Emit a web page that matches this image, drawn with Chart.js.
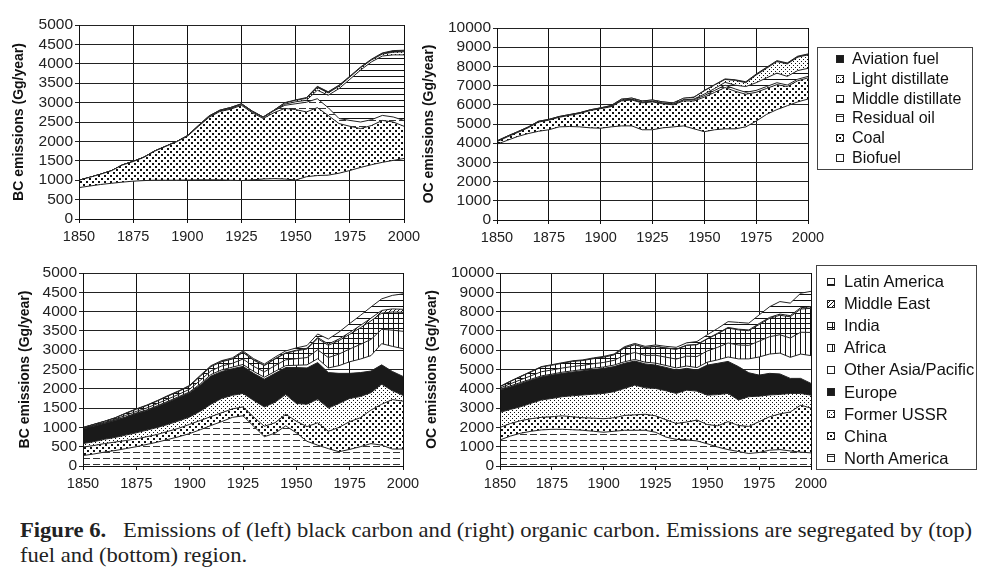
<!DOCTYPE html>
<html>
<head>
<meta charset="utf-8">
<script src="https://cdn.jsdelivr.net/npm/chart.js@4.4.1/dist/chart.umd.min.js"></script>
<style>
  body { margin: 0; background: #fff; width: 988px; height: 585px; overflow: hidden; position: relative; font-family: "Liberation Sans", Arial, sans-serif; }
  canvas.chart { position: absolute; }
  .legend { position: absolute; border: 1px solid #444; background: #fff; box-sizing: border-box; }
  .legend .item { position: absolute; display: flex; align-items: center; height: 18px; color: #111; white-space: nowrap; }
  #legendFuel .item { font-size: 16px; }
  #legendRegion .item { font-size: 16.5px; }
  #caption { position: absolute; left: 20px; top: 518px; font-family: "Liberation Serif", "Times New Roman", serif; font-size: 21px; line-height: 25px; color: #222; transform-origin: 0 0; white-space: nowrap; }
</style>
</head>
<body>
<canvas id="bcFuel" class="chart"></canvas>
<canvas id="ocFuel" class="chart"></canvas>
<canvas id="bcRegion" class="chart"></canvas>
<canvas id="ocRegion" class="chart"></canvas>
<div id="legendFuel" class="legend" style="left:817px;top:47px;width:156px;height:123px"></div>
<div id="legendRegion" class="legend" style="left:816px;top:265px;width:161px;height:205px"></div>
<div id="caption">
  <div id="capLine1"><b>Figure 6.</b>&nbsp;&nbsp; Emissions of (left) black carbon and (right) organic carbon. Emissions are segregated by (top)</div>
  <div>fuel and (bottom) region.</div>
</div>
<script>
const years = [1850, 1855, 1860, 1865, 1870, 1875, 1880, 1885, 1890, 1895, 1900, 1905, 1910, 1915, 1920, 1925, 1930, 1935, 1940, 1945, 1950, 1955, 1960, 1965, 1970, 1975, 1980, 1985, 1990, 1995, 2000];
const xTicks = [1850, 1875, 1900, 1925, 1950, 1975, 2000];

// BC by fuel (Gg/year)
const bcBiofuel = [810, 850, 890, 920, 950, 975, 990, 1000, 1000, 1000, 1005, 1010, 1010, 1010, 1000, 990, 1010, 1030, 1040, 1030, 1005, 1090, 1120, 1130, 1180, 1250, 1330, 1400, 1460, 1510, 1560];
const bcCoal = [190, 225, 265, 325, 440, 505, 600, 750, 870, 990, 1125, 1370, 1610, 1760, 1830, 1940, 1730, 1560, 1700, 1820, 1815, 1670, 1750, 1540, 1280, 1140, 1000, 1010, 1080, 990, 830];
const bcResidual = [0, 0, 0, 0, 5, 5, 5, 5, 5, 5, 10, 10, 15, 15, 20, 25, 25, 25, 50, 80, 150, 250, 230, 200, 130, 150, 170, 150, 130, 130, 150];
const bcMiddle = [0, 0, 0, 0, 0, 0, 0, 0, 0, 0, 5, 5, 5, 5, 5, 5, 5, 5, 5, 30, 50, 50, 220, 320, 770, 1060, 1340, 1490, 1530, 1600, 1690];
const bcLight = [0, 0, 0, 0, 0, 0, 0, 0, 0, 0, 0, 10, 15, 15, 20, 10, 10, 10, 10, 30, 40, 50, 70, 60, 60, 60, 60, 50, 50, 70, 80];
const bcAviation = [0, 0, 0, 0, 0, 0, 0, 0, 0, 0, 0, 0, 0, 0, 0, 0, 0, 0, 0, 10, 10, 20, 30, 30, 30, 20, 20, 20, 30, 40, 40];

// OC by fuel (Gg/year)
const ocBiofuel = [3950, 4150, 4350, 4500, 4620, 4700, 4850, 4870, 4850, 4800, 4780, 4850, 4900, 4900, 4700, 4700, 4800, 4850, 4900, 4750, 4600, 4700, 4750, 4750, 4850, 5150, 5500, 5750, 5950, 6150, 6300];
const ocCoal = [130, 180, 210, 300, 480, 500, 500, 580, 700, 900, 1020, 1050, 1300, 1350, 1400, 1450, 1250, 1150, 1300, 1450, 1800, 1950, 2150, 1950, 1700, 1500, 1350, 1300, 1000, 1100, 1100];
const ocResidual = [10, 10, 10, 10, 10, 10, 10, 10, 10, 10, 10, 20, 30, 30, 30, 30, 30, 30, 50, 60, 80, 100, 120, 120, 100, 100, 100, 100, 80, 80, 80];
const ocMiddle = [10, 10, 10, 10, 10, 10, 10, 10, 10, 10, 10, 10, 10, 10, 10, 10, 10, 10, 10, 40, 80, 100, 150, 200, 300, 400, 450, 500, 450, 450, 420];
const ocLight = [20, 20, 20, 20, 20, 20, 20, 20, 20, 20, 20, 30, 50, 60, 60, 60, 60, 60, 80, 90, 170, 180, 150, 250, 200, 400, 500, 600, 650, 700, 700];
const ocAviation = [0, 0, 0, 0, 0, 0, 0, 0, 0, 0, 0, 0, 0, 0, 0, 0, 0, 0, 0, 10, 20, 20, 30, 30, 50, 50, 50, 50, 50, 50, 50];

// BC by region (Gg/year)
const bcNorthAmerica = [270, 310, 360, 400, 450, 500, 560, 620, 690, 760, 840, 940, 1050, 1150, 1260, 1300, 1030, 760, 850, 1040, 860, 640, 540, 450, 370, 430, 500, 580, 540, 440, 440];
const bcChina = [220, 220, 220, 220, 210, 200, 200, 200, 210, 220, 240, 240, 230, 230, 220, 230, 240, 270, 270, 300, 300, 380, 580, 450, 630, 720, 750, 870, 1060, 1280, 1240];
const bcFormerUSSR = [90, 100, 110, 120, 140, 160, 170, 180, 180, 190, 190, 240, 320, 370, 350, 350, 430, 500, 530, 510, 460, 580, 610, 600, 620, 600, 550, 450, 520, 230, 150];
const bcEurope = [380, 400, 410, 440, 460, 500, 510, 550, 580, 610, 630, 680, 730, 700, 690, 700, 700, 720, 750, 700, 930, 940, 950, 920, 780, 650, 620, 560, 500, 500, 490];
const bcOtherAsia = [10, 10, 10, 10, 10, 15, 15, 15, 20, 20, 20, 30, 40, 40, 40, 50, 50, 50, 50, 50, 60, 80, 100, 120, 200, 300, 350, 400, 550, 650, 720];
const bcAfrica = [10, 15, 18, 22, 40, 40, 50, 55, 60, 60, 70, 90, 95, 100, 100, 140, 130, 140, 150, 150, 170, 190, 230, 270, 300, 330, 380, 420, 370, 420, 450];
const bcIndia = [13, 18, 24, 29, 49, 54, 62, 67, 75, 75, 80, 105, 110, 110, 110, 170, 160, 160, 170, 170, 205, 220, 290, 315, 350, 380, 430, 480, 420, 470, 490];
const bcMiddleEast = [2, 2, 3, 3, 3, 3, 3, 3, 3, 3, 5, 5, 5, 5, 5, 10, 10, 10, 10, 10, 15, 20, 30, 35, 40, 50, 60, 70, 70, 80, 80];
const bcLatinAmerica = [5, 5, 5, 6, 8, 8, 10, 10, 12, 12, 15, 20, 20, 25, 25, 30, 30, 30, 40, 50, 60, 70, 90, 130, 180, 230, 260, 290, 300, 350, 400];

// OC by region (Gg/year)
const ocNorthAmerica = [1350, 1550, 1700, 1800, 1870, 1900, 1900, 1880, 1850, 1800, 1750, 1800, 1850, 1850, 1850, 1750, 1500, 1380, 1350, 1300, 1150, 980, 850, 750, 650, 700, 820, 850, 780, 720, 680];
const ocChina = [650, 650, 650, 650, 650, 650, 700, 670, 650, 680, 700, 700, 770, 800, 830, 850, 900, 820, 930, 1080, 1000, 1100, 1450, 1350, 1400, 1600, 1730, 1850, 2020, 2430, 2320];
const ocFormerUSSR = [780, 730, 720, 800, 900, 950, 990, 1090, 1180, 1240, 1310, 1350, 1400, 1540, 1370, 1420, 1500, 1560, 1650, 1500, 1520, 1620, 1460, 1320, 1540, 1320, 1130, 1010, 960, 610, 670];
const ocEurope = [1150, 1170, 1210, 1200, 1200, 1210, 1210, 1230, 1260, 1280, 1300, 1300, 1300, 1250, 1240, 1210, 1210, 1210, 1130, 1090, 1560, 1620, 1660, 1730, 1240, 1090, 1120, 1060, 780, 780, 610];
const ocOtherAsia = [50, 50, 50, 50, 50, 50, 60, 60, 60, 70, 70, 80, 80, 80, 90, 100, 100, 110, 120, 130, 150, 180, 230, 400, 720, 940, 1000, 1080, 1090, 1260, 1440];
const ocAfrica = [60, 110, 140, 175, 215, 215, 215, 225, 215, 230, 235, 245, 340, 360, 350, 410, 430, 460, 510, 570, 580, 650, 720, 720, 700, 820, 900, 950, 1000, 1130, 1200];
const ocIndia = [65, 120, 160, 200, 240, 245, 245, 260, 250, 260, 270, 280, 380, 400, 400, 450, 470, 500, 555, 610, 620, 700, 780, 780, 760, 860, 950, 1010, 1100, 1200, 1250];
const ocMiddleEast = [5, 5, 5, 5, 5, 5, 5, 5, 5, 5, 5, 5, 10, 10, 10, 10, 10, 10, 15, 20, 20, 30, 30, 40, 40, 50, 50, 60, 60, 70, 80];
const ocLatinAmerica = [10, 15, 15, 20, 20, 25, 25, 30, 30, 35, 40, 40, 50, 60, 60, 70, 80, 100, 120, 150, 200, 250, 300, 350, 350, 450, 550, 650, 650, 750, 800];

const FONT = "'Liberation Sans', Arial, sans-serif";

// fill patterns, like the old Excel hatches
const makePattern = (w, h, draw) => {
  const c = document.createElement("canvas");
  c.width = w;
  c.height = h;
  const g = c.getContext("2d");
  g.fillStyle = "#fff";
  g.fillRect(0, 0, w, h);
  g.fillStyle = "#111";
  draw(g);
  return g.createPattern(c, "repeat");
};

const FILLS = {
  black: "#1a1a1a",
  white: "rgba(255,255,255,0)",
  denseDots: makePattern(6, 6, (g) => { g.fillRect(0, 0, 2, 2); g.fillRect(3, 3, 2, 2); }),
  lightDots: makePattern(4, 4, (g) => { g.fillRect(0, 0, 1, 1); g.fillRect(2, 2, 1, 1); }),
  hLines: makePattern(6, 6, (g) => { g.fillRect(0, 0, 6, 1); }),
  dashes: makePattern(10, 6, (g) => { g.fillStyle = "#333"; g.fillRect(0, 2, 7, 1); }),
  vLines: makePattern(5, 5, (g) => { g.fillRect(0, 0, 1, 5); }),
  grid: makePattern(5, 5, (g) => { g.fillRect(0, 0, 1, 5); g.fillRect(0, 0, 5, 1); }),
  diag: makePattern(4, 4, (g) => { for (let i = 0; i < 4; i++) g.fillRect(i, 3 - i, 1, 1); }),
};

// bottom first, as they stack
const fuelSeries = (bio, coal, resid, mid, light, avi) => [
  { name: "Biofuel", values: bio, fill: "white" },
  { name: "Coal", values: coal, fill: "denseDots" },
  { name: "Residual oil", values: resid, fill: "dashes" },
  { name: "Middle distillate", values: mid, fill: "hLines" },
  { name: "Light distillate", values: light, fill: "lightDots" },
  { name: "Aviation fuel", values: avi, fill: "black" },
];

const regionSeries = (na, cn, fsu, eu, oa, af, ind, me, la) => [
  { name: "North America", values: na, fill: "dashes" },
  { name: "China", values: cn, fill: "denseDots" },
  { name: "Former USSR", values: fsu, fill: "lightDots" },
  { name: "Europe", values: eu, fill: "black" },
  { name: "Other Asia/Pacific", values: oa, fill: "white" },
  { name: "Africa", values: af, fill: "vLines" },
  { name: "India", values: ind, fill: "grid" },
  { name: "Middle East", values: me, fill: "diag" },
  { name: "Latin America", values: la, fill: "hLines" },
];

const makeChart = (id, box, yMax, yStep, yTitle, titlePad, series) => {
  const canvas = document.getElementById(id);
  const w = box.r - box.l + 80 + 25;
  const h = box.b - box.t + 15 + 35;
  canvas.width = w;
  canvas.height = h;
  canvas.style.left = `${box.l - 80}px`;
  canvas.style.top = `${box.t - 15}px`;
  canvas.style.width = `${w}px`;
  canvas.style.height = `${h}px`;

  const datasets = series.map((s, i) => ({
    label: s.name,
    data: years.map((yr, j) => ({ x: yr, y: s.values[j] })),
    backgroundColor: FILLS[s.fill],
    borderColor: "#222",
    borderWidth: 1,
    fill: i === 0 ? "origin" : "-1",
    pointRadius: 0,
    tension: 0,
  }));

  return new Chart(canvas, {
    type: "line",
    data: { datasets },
    options: {
      responsive: false,
      devicePixelRatio: 1,
      animation: false,
      layout: { padding: { top: 15, right: 25, left: 0, bottom: 0 } },
      plugins: { legend: { display: false }, tooltip: { enabled: false } },
      scales: {
        x: {
          type: "linear",
          min: 1850,
          max: 2000,
          afterBuildTicks: (scale) => { scale.ticks = xTicks.map((v) => ({ value: v })); },
          ticks: { callback: (v) => String(v), color: "#222", font: { size: 14.5, family: FONT }, padding: 5, maxRotation: 0, autoSkip: false },
          grid: { color: "#111", lineWidth: 1, tickLength: 4 },
          border: { color: "#111", z: 1 },
          afterFit: (scale) => { scale.height = 35; },
        },
        y: {
          stacked: true,
          min: 0,
          max: yMax,
          ticks: { stepSize: yStep, autoSkip: false, callback: (v) => String(v), color: "#222", font: { size: 15.5, family: FONT }, padding: 2 },
          grid: { color: "#222", lineWidth: 1, tickLength: 4 },
          border: { color: "#111", z: 1 },
          title: { display: true, text: yTitle, color: "#111", font: { size: 14, weight: "bold", family: FONT }, padding: { top: titlePad, bottom: 0 } },
          afterFit: (scale) => { scale.width = 80; },
        },
      },
    },
  });
};

makeChart("bcFuel", { l: 79, t: 25, r: 404, b: 219 }, 5000, 500, "BC emissions (Gg/year)", 12,
  fuelSeries(bcBiofuel, bcCoal, bcResidual, bcMiddle, bcLight, bcAviation));
makeChart("ocFuel", { l: 497, t: 28, r: 808, b: 220 }, 10000, 1000, "OC emissions (Gg/year)", 4,
  fuelSeries(ocBiofuel, ocCoal, ocResidual, ocMiddle, ocLight, ocAviation));
makeChart("bcRegion", { l: 83, t: 273, r: 403, b: 466 }, 5000, 500, "BC emissions (Gg/year)", 14,
  regionSeries(bcNorthAmerica, bcChina, bcFormerUSSR, bcEurope, bcOtherAsia, bcAfrica, bcIndia, bcMiddleEast, bcLatinAmerica));
makeChart("ocRegion", { l: 500, t: 273, r: 811, b: 466 }, 10000, 1000, "OC emissions (Gg/year)", 4,
  regionSeries(ocNorthAmerica, ocChina, ocFormerUSSR, ocEurope, ocOtherAsia, ocAfrica, ocIndia, ocMiddleEast, ocLatinAmerica));

// legends, top entry first like the figure
const addLegend = (boxId, items, firstY, step, iconX, textX) => {
  const box = document.getElementById(boxId);
  items.forEach((it, i) => {
    const row = document.createElement("div");
    row.className = "item";
    row.style.left = `${iconX}px`;
    row.style.top = `${firstY + i * step - 9}px`;
    const icon = document.createElement("canvas");
    icon.width = 8;
    icon.height = 8;
    const g = icon.getContext("2d");
    g.fillStyle = it.fill === "white" ? "#fff" : FILLS[it.fill];
    g.fillRect(0, 0, 8, 8);
    g.strokeStyle = "#222";
    g.strokeRect(0.5, 0.5, 7, 7);
    icon.style.marginRight = `${textX - iconX - 8}px`;
    row.appendChild(icon);
    const label = document.createElement("span");
    label.innerText = it.name;
    row.appendChild(label);
    box.appendChild(row);
  });
};

addLegend("legendFuel", fuelSeries().reverse(), 11, 19.8, 18, 34);
addLegend("legendRegion", regionSeries().reverse(), 15.5, 22.1, 10, 27);

// squeeze the caption onto its two lines like the printed figure
const caption = document.getElementById("caption");
const line1 = document.getElementById("capLine1");
const capScale = 952 / line1.scrollWidth;
caption.style.transform = `scaleX(${capScale})`;
</script>
</body>
</html>
